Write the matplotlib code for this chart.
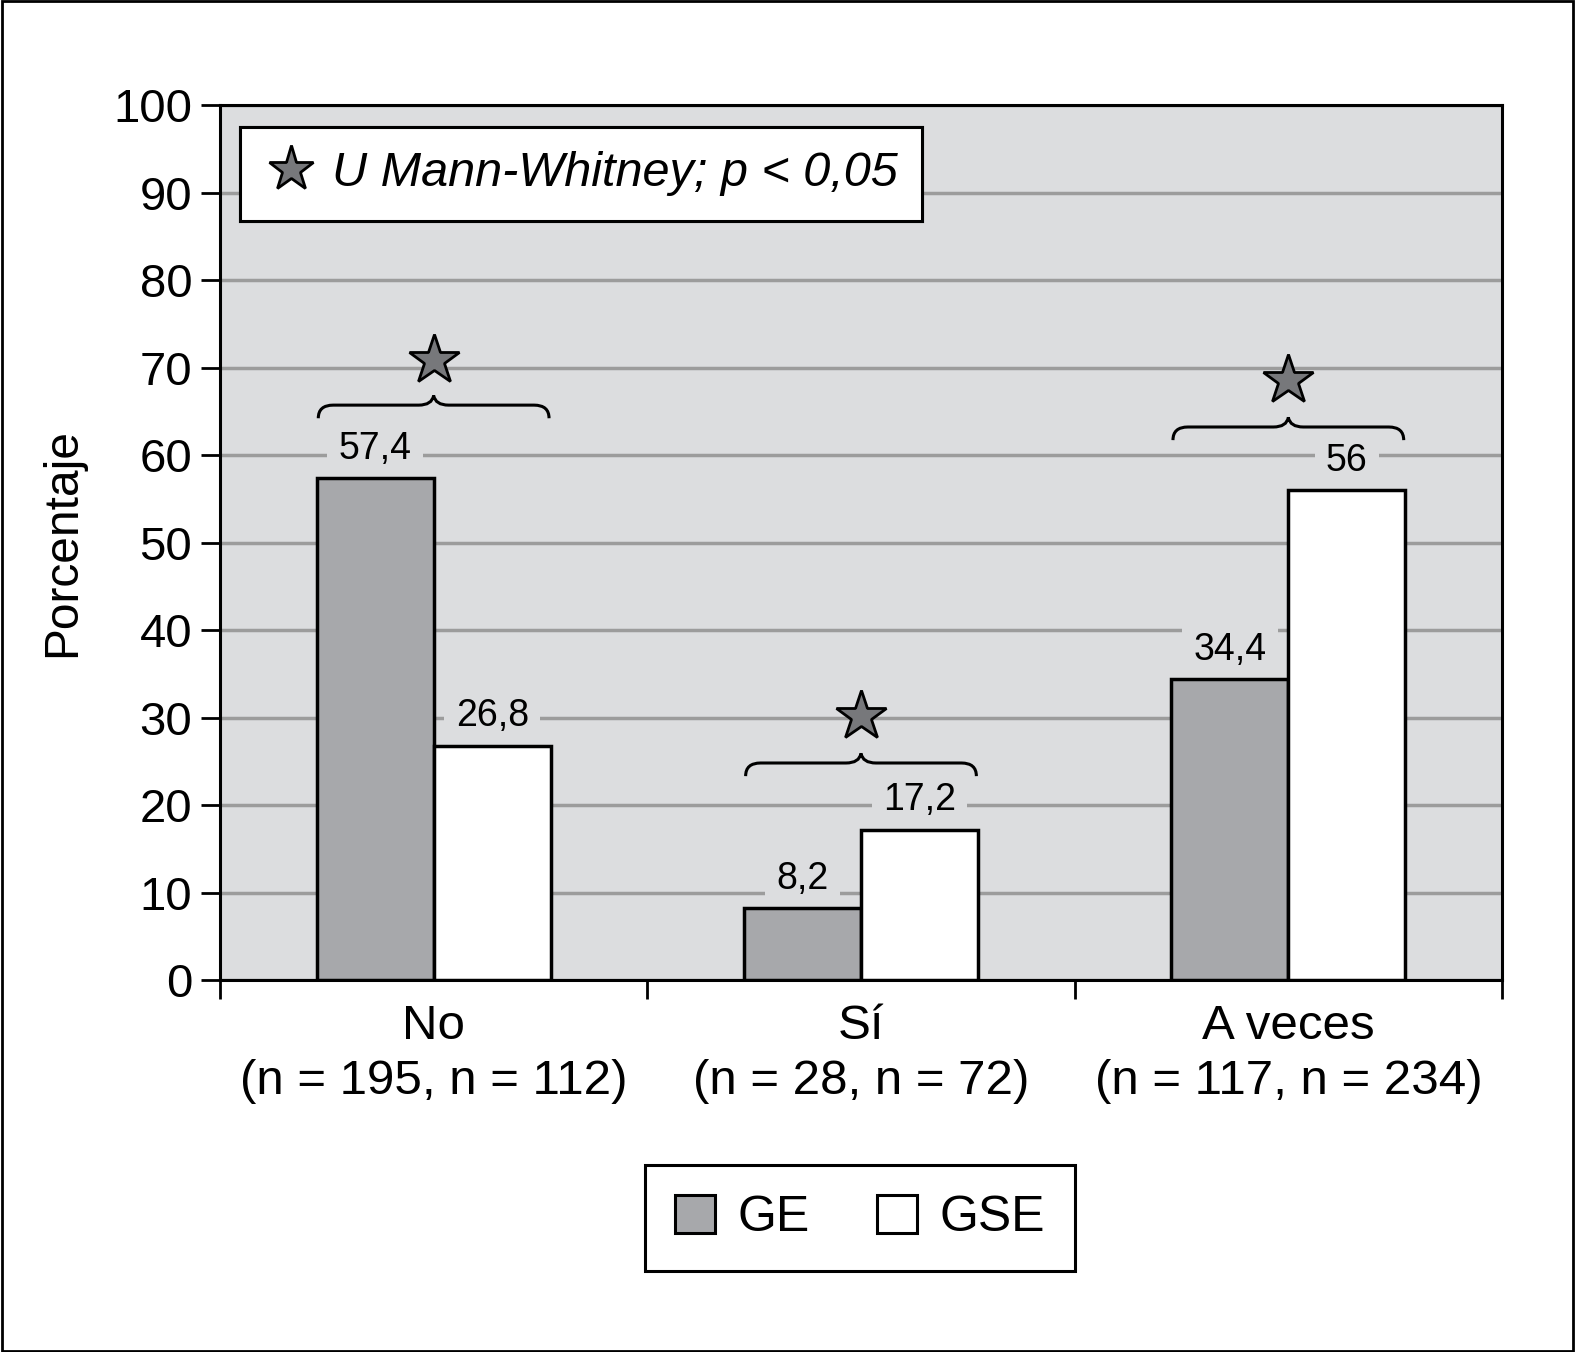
import matplotlib.pyplot as plt
from matplotlib.path import Path
from matplotlib.patches import PathPatch, Rectangle, Patch
from matplotlib.lines import Line2D
import numpy as np

plt.rcParams['font.family'] = ['Liberation Sans', 'DejaVu Sans']

categories = ["No\n(n = 195, n = 112)", "Sí\n(n = 28, n = 72)", "A veces\n(n = 117, n = 234)"]
ge = [57.4, 8.2, 34.4]
gse = [26.8, 17.2, 56]
ge_labels = ["57,4", "8,2", "34,4"]
gse_labels = ["26,8", "17,2", "56"]
# brace base (end of hooks) and star height per group
brace_base = [64.2, 23.3, 61.7]
star_y = [70.9, 30.2, 68.6]

bg = "#dcdddf"
ge_col = "#a7a8ab"
star_col = "#77787b"

fig = plt.figure(figsize=(15.75, 13.52), dpi=100)
ax = fig.add_axes([220/1575, 1-980/1352, 1282/1575, 875/1352])
ax.set_facecolor(bg)

x = np.arange(len(categories))
w = 0.274
ax.bar(x - w/2, ge, w, color=ge_col, edgecolor="black", linewidth=2.5, zorder=3, label="GE")
ax.bar(x + w/2, gse, w, color="white", edgecolor="black", linewidth=2.5, zorder=3, label="GSE")

ax.set_xlim(-0.5, 2.5)
ax.set_ylim(0, 100)
ax.set_yticks(range(0, 101, 10))
ax.yaxis.grid(True, color="#9c9c9c", linewidth=2.5, zorder=0)
ax.set_axisbelow(True)
ax.tick_params(axis="y", labelsize=34, length=14, width=2, pad=6)
ax.set_xticks(x)
ax.set_xticklabels(categories, fontsize=35.5, linespacing=1.3)
ax.tick_params(axis="x", which="major", length=0, pad=17)
ax.set_xticks([-0.5, 0.5, 1.5, 2.5], minor=True)
ax.tick_params(axis="x", which="minor", length=14, width=2)
for s in ax.spines.values():
    s.set_linewidth(2.2)
    s.set_color("black")
ax.set_ylabel("Porcentaje", fontsize=34.5, labelpad=20)

# value labels, background hides the gridline
for xi, v, t in zip(x - w/2, ge, ge_labels):
    ax.annotate(t, (xi, v), xytext=(0, 21), textcoords="offset points",
                ha="center", va="center", fontsize=27, zorder=2,
                bbox=dict(boxstyle="square,pad=0.3", fc=bg, ec="none"))
for xi, v, t in zip(x + w/2, gse, gse_labels):
    ax.annotate(t, (xi, v), xytext=(0, 21), textcoords="offset points",
                ha="center", va="center", fontsize=27, zorder=2,
                bbox=dict(boxstyle="square,pad=0.3", fc=bg, ec="none"))

# braces and stars
hw = 0.27
for c, y0, ys in zip(x, brace_base, star_y):
    y1 = y0 + 1.5
    y2 = y1 + 1.1
    verts = [(c - hw, y0), (c - hw, y1), (c - hw + 0.035, y1),
             (c - 0.035, y1), (c - 0.004, y1), (c, y2),
             (c + 0.004, y1), (c + 0.035, y1),
             (c + hw - 0.035, y1), (c + hw, y1), (c + hw, y0)]
    codes = [Path.MOVETO, Path.CURVE3, Path.CURVE3,
             Path.LINETO, Path.CURVE3, Path.CURVE3,
             Path.CURVE3, Path.CURVE3,
             Path.LINETO, Path.CURVE3, Path.CURVE3]
    ax.add_patch(PathPatch(Path(verts, codes), fc="none", ec="black", lw=2.2, zorder=4))
    ax.plot(c, ys, marker="*", markersize=38, color=star_col, markeredgecolor="black",
            markeredgewidth=2, zorder=5)

# significance legend
star_handle = Line2D([], [], marker="*", linestyle="none", markersize=34, color=star_col,
                     markeredgecolor="black", markeredgewidth=2)
leg1 = ax.legend([star_handle], ["U Mann-Whitney; p < 0,05"], loc="upper left",
                 bbox_to_anchor=(20/1282, 1 - 22/875), prop={"size": 35, "style": "italic"},
                 frameon=True, fancybox=False, edgecolor="black", framealpha=1,
                 borderpad=0.5, handletextpad=0.3, handlelength=1.1, borderaxespad=0)
leg1.get_frame().set_linewidth(2.2)
ax.add_artist(leg1)

# group legend
handles = [Patch(fc=ge_col, ec="black", lw=2.2), Patch(fc="white", ec="black", lw=2.2)]
leg2 = fig.legend(handles, ["GE", "GSE"], loc="center", bbox_to_anchor=(860/1575, 1 - 1218/1352),
                  ncol=2, prop={"size": 36}, frameon=True, fancybox=False, edgecolor="black",
                  framealpha=1, borderpad=0.6, handlelength=0.8, handleheight=0.8,
                  handletextpad=0.45, columnspacing=1.35)
leg2.get_frame().set_linewidth(2.2)

# outer frame
fig.patches.append(Rectangle((0.001, 0.001), 0.998, 0.998, transform=fig.transFigure,
                             fill=False, ec="black", lw=2))

fig.savefig("out.png", dpi=100)
